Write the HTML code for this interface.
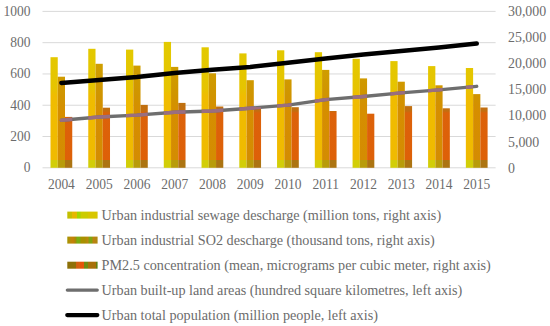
<!DOCTYPE html><html><head><meta charset="utf-8"><style>html,body{margin:0;padding:0;background:#fff;width:550px;height:326px;overflow:hidden}svg{display:block}text{font-family:"Liberation Serif",serif;fill:#6C6C6C}</style></head><body><svg width="550" height="326" viewBox="0 0 550 326"><defs><linearGradient id="gY" gradientUnits="userSpaceOnUse" x1="0" y1="0" x2="0" y2="326"><stop offset="0.1227" stop-color="#E2CA00"/><stop offset="0.2699" stop-color="#E6C400"/><stop offset="0.2945" stop-color="#F0BC00"/><stop offset="0.4893" stop-color="#F0BA00"/><stop offset="0.4923" stop-color="#D2CE08"/><stop offset="0.5153" stop-color="#D2CE08"/></linearGradient><linearGradient id="gS" gradientUnits="userSpaceOnUse" x1="0" y1="0" x2="0" y2="326"><stop offset="0.1840" stop-color="#CFA000"/><stop offset="0.2945" stop-color="#D09400"/><stop offset="0.3436" stop-color="#D68E00"/><stop offset="0.4893" stop-color="#D48C02"/><stop offset="0.4923" stop-color="#B89C0A"/><stop offset="0.5153" stop-color="#B89C0A"/></linearGradient><linearGradient id="gP" gradientUnits="userSpaceOnUse" x1="0" y1="0" x2="0" y2="326"><stop offset="0.3067" stop-color="#BC7210"/><stop offset="0.3405" stop-color="#C46E10"/><stop offset="0.3466" stop-color="#DC620A"/><stop offset="0.4893" stop-color="#DE6008"/><stop offset="0.4923" stop-color="#AC7412"/><stop offset="0.5153" stop-color="#AC7412"/></linearGradient><linearGradient id="lY" gradientUnits="userSpaceOnUse" x1="0" y1="0" x2="550" y2="0"><stop offset="0.1218" stop-color="#C0C000"/><stop offset="0.1300" stop-color="#C8BE00"/><stop offset="0.1318" stop-color="#E6B800"/><stop offset="0.1391" stop-color="#E6B800"/><stop offset="0.1409" stop-color="#A0D800"/><stop offset="0.1455" stop-color="#A8D400"/><stop offset="0.1473" stop-color="#CCCC00"/><stop offset="0.1591" stop-color="#CCCC00"/><stop offset="0.1609" stop-color="#D8C600"/><stop offset="0.1764" stop-color="#D8C600"/></linearGradient><linearGradient id="lS" gradientUnits="userSpaceOnUse" x1="0" y1="0" x2="550" y2="0"><stop offset="0.1218" stop-color="#A09600"/><stop offset="0.1273" stop-color="#B88C08"/><stop offset="0.1327" stop-color="#C88008"/><stop offset="0.1382" stop-color="#A08C08"/><stop offset="0.1400" stop-color="#78B010"/><stop offset="0.1455" stop-color="#80A810"/><stop offset="0.1473" stop-color="#A89000"/><stop offset="0.1545" stop-color="#A89000"/><stop offset="0.1600" stop-color="#C08410"/><stop offset="0.1618" stop-color="#80A410"/><stop offset="0.1673" stop-color="#80A410"/><stop offset="0.1691" stop-color="#C08010"/><stop offset="0.1764" stop-color="#B08810"/></linearGradient><linearGradient id="lP" gradientUnits="userSpaceOnUse" x1="0" y1="0" x2="550" y2="0"><stop offset="0.1218" stop-color="#8C7008"/><stop offset="0.1373" stop-color="#907008"/><stop offset="0.1391" stop-color="#D06010"/><stop offset="0.1445" stop-color="#D86010"/><stop offset="0.1464" stop-color="#E45408"/><stop offset="0.1518" stop-color="#E45408"/><stop offset="0.1536" stop-color="#708A10"/><stop offset="0.1591" stop-color="#708A10"/><stop offset="0.1609" stop-color="#A87008"/><stop offset="0.1736" stop-color="#A87008"/><stop offset="0.1755" stop-color="#608010"/><stop offset="0.1782" stop-color="#608010"/></linearGradient><clipPath id="barclip"><rect x="50.50" y="57.20" width="7.25" height="110.60"/><rect x="57.75" y="76.70" width="7.25" height="91.10"/><rect x="65.00" y="116.90" width="7.25" height="50.90"/><rect x="88.26" y="48.80" width="7.25" height="119.00"/><rect x="95.51" y="63.80" width="7.25" height="104.00"/><rect x="102.76" y="107.70" width="7.25" height="60.10"/><rect x="126.02" y="49.60" width="7.25" height="118.20"/><rect x="133.27" y="65.60" width="7.25" height="102.20"/><rect x="140.52" y="104.90" width="7.25" height="62.90"/><rect x="163.78" y="41.90" width="7.25" height="125.90"/><rect x="171.03" y="66.90" width="7.25" height="100.90"/><rect x="178.28" y="102.90" width="7.25" height="64.90"/><rect x="201.54" y="47.30" width="7.25" height="120.50"/><rect x="208.79" y="73.30" width="7.25" height="94.50"/><rect x="216.04" y="106.50" width="7.25" height="61.30"/><rect x="239.30" y="53.40" width="7.25" height="114.40"/><rect x="246.55" y="80.20" width="7.25" height="87.60"/><rect x="253.80" y="107.00" width="7.25" height="60.80"/><rect x="277.05" y="50.30" width="7.25" height="117.50"/><rect x="284.30" y="79.40" width="7.25" height="88.40"/><rect x="291.55" y="107.20" width="7.25" height="60.60"/><rect x="314.81" y="52.20" width="7.25" height="115.60"/><rect x="322.06" y="69.90" width="7.25" height="97.90"/><rect x="329.31" y="111.00" width="7.25" height="56.80"/><rect x="352.57" y="58.80" width="7.25" height="109.00"/><rect x="359.82" y="78.40" width="7.25" height="89.40"/><rect x="367.07" y="113.70" width="7.25" height="54.10"/><rect x="390.33" y="61.10" width="7.25" height="106.70"/><rect x="397.58" y="81.70" width="7.25" height="86.10"/><rect x="404.83" y="106.10" width="7.25" height="61.70"/><rect x="428.09" y="66.10" width="7.25" height="101.70"/><rect x="435.34" y="85.30" width="7.25" height="82.50"/><rect x="442.59" y="108.30" width="7.25" height="59.50"/><rect x="465.85" y="68.00" width="7.25" height="99.80"/><rect x="473.10" y="94.10" width="7.25" height="73.70"/><rect x="480.35" y="107.50" width="7.25" height="60.30"/></clipPath></defs><rect width="550" height="326" fill="#fff"/><line x1="42.5" x2="495.6" y1="167.80" y2="167.80" stroke="#D9D9D9" stroke-width="1"/><line x1="42.5" x2="495.6" y1="136.52" y2="136.52" stroke="#D9D9D9" stroke-width="1"/><line x1="42.5" x2="495.6" y1="105.24" y2="105.24" stroke="#D9D9D9" stroke-width="1"/><line x1="42.5" x2="495.6" y1="73.96" y2="73.96" stroke="#D9D9D9" stroke-width="1"/><line x1="42.5" x2="495.6" y1="42.68" y2="42.68" stroke="#D9D9D9" stroke-width="1"/><line x1="42.5" x2="495.6" y1="11.40" y2="11.40" stroke="#D9D9D9" stroke-width="1"/><text transform="translate(30.5 172.10) scale(1 1.150)" font-size="13.50" text-anchor="end">0</text><text transform="translate(30.5 140.82) scale(1 1.150)" font-size="13.50" text-anchor="end">200</text><text transform="translate(30.5 109.54) scale(1 1.150)" font-size="13.50" text-anchor="end">400</text><text transform="translate(30.5 78.26) scale(1 1.150)" font-size="13.50" text-anchor="end">600</text><text transform="translate(30.5 46.98) scale(1 1.150)" font-size="13.50" text-anchor="end">800</text><text transform="translate(30.5 15.70) scale(1 1.150)" font-size="13.50" text-anchor="end">1000</text><text transform="translate(508 172.60) scale(1.030 1.150)" font-size="13.50">0</text><text transform="translate(508 146.53) scale(1.030 1.150)" font-size="13.50">5,000</text><text transform="translate(508 120.47) scale(1.030 1.150)" font-size="13.50">10,000</text><text transform="translate(508 94.40) scale(1.030 1.150)" font-size="13.50">15,000</text><text transform="translate(508 68.33) scale(1.030 1.150)" font-size="13.50">20,000</text><text transform="translate(508 42.27) scale(1.030 1.150)" font-size="13.50">25,000</text><text transform="translate(508 16.20) scale(1.030 1.150)" font-size="13.50">30,000</text><rect x="50.50" y="57.20" width="7.25" height="110.60" fill="url(#gY)"/><rect x="57.75" y="76.70" width="7.25" height="91.10" fill="url(#gS)"/><rect x="65.00" y="116.90" width="7.25" height="50.90" fill="url(#gP)"/><rect x="88.26" y="48.80" width="7.25" height="119.00" fill="url(#gY)"/><rect x="95.51" y="63.80" width="7.25" height="104.00" fill="url(#gS)"/><rect x="102.76" y="107.70" width="7.25" height="60.10" fill="url(#gP)"/><rect x="126.02" y="49.60" width="7.25" height="118.20" fill="url(#gY)"/><rect x="133.27" y="65.60" width="7.25" height="102.20" fill="url(#gS)"/><rect x="140.52" y="104.90" width="7.25" height="62.90" fill="url(#gP)"/><rect x="163.78" y="41.90" width="7.25" height="125.90" fill="url(#gY)"/><rect x="171.03" y="66.90" width="7.25" height="100.90" fill="url(#gS)"/><rect x="178.28" y="102.90" width="7.25" height="64.90" fill="url(#gP)"/><rect x="201.54" y="47.30" width="7.25" height="120.50" fill="url(#gY)"/><rect x="208.79" y="73.30" width="7.25" height="94.50" fill="url(#gS)"/><rect x="216.04" y="106.50" width="7.25" height="61.30" fill="url(#gP)"/><rect x="239.30" y="53.40" width="7.25" height="114.40" fill="url(#gY)"/><rect x="246.55" y="80.20" width="7.25" height="87.60" fill="url(#gS)"/><rect x="253.80" y="107.00" width="7.25" height="60.80" fill="url(#gP)"/><rect x="277.05" y="50.30" width="7.25" height="117.50" fill="url(#gY)"/><rect x="284.30" y="79.40" width="7.25" height="88.40" fill="url(#gS)"/><rect x="291.55" y="107.20" width="7.25" height="60.60" fill="url(#gP)"/><rect x="314.81" y="52.20" width="7.25" height="115.60" fill="url(#gY)"/><rect x="322.06" y="69.90" width="7.25" height="97.90" fill="url(#gS)"/><rect x="329.31" y="111.00" width="7.25" height="56.80" fill="url(#gP)"/><rect x="352.57" y="58.80" width="7.25" height="109.00" fill="url(#gY)"/><rect x="359.82" y="78.40" width="7.25" height="89.40" fill="url(#gS)"/><rect x="367.07" y="113.70" width="7.25" height="54.10" fill="url(#gP)"/><rect x="390.33" y="61.10" width="7.25" height="106.70" fill="url(#gY)"/><rect x="397.58" y="81.70" width="7.25" height="86.10" fill="url(#gS)"/><rect x="404.83" y="106.10" width="7.25" height="61.70" fill="url(#gP)"/><rect x="428.09" y="66.10" width="7.25" height="101.70" fill="url(#gY)"/><rect x="435.34" y="85.30" width="7.25" height="82.50" fill="url(#gS)"/><rect x="442.59" y="108.30" width="7.25" height="59.50" fill="url(#gP)"/><rect x="465.85" y="68.00" width="7.25" height="99.80" fill="url(#gY)"/><rect x="473.10" y="94.10" width="7.25" height="73.70" fill="url(#gS)"/><rect x="480.35" y="107.50" width="7.25" height="60.30" fill="url(#gP)"/><text transform="translate(61.38 188.80) scale(1 1.150)" font-size="13.50" text-anchor="middle">2004</text><text transform="translate(99.14 188.80) scale(1 1.150)" font-size="13.50" text-anchor="middle">2005</text><text transform="translate(136.90 188.80) scale(1 1.150)" font-size="13.50" text-anchor="middle">2006</text><text transform="translate(174.65 188.80) scale(1 1.150)" font-size="13.50" text-anchor="middle">2007</text><text transform="translate(212.41 188.80) scale(1 1.150)" font-size="13.50" text-anchor="middle">2008</text><text transform="translate(250.17 188.80) scale(1 1.150)" font-size="13.50" text-anchor="middle">2009</text><text transform="translate(287.93 188.80) scale(1 1.150)" font-size="13.50" text-anchor="middle">2010</text><text transform="translate(325.69 188.80) scale(1 1.150)" font-size="13.50" text-anchor="middle">2011</text><text transform="translate(363.45 188.80) scale(1 1.150)" font-size="13.50" text-anchor="middle">2012</text><text transform="translate(401.20 188.80) scale(1 1.150)" font-size="13.50" text-anchor="middle">2013</text><text transform="translate(438.96 188.80) scale(1 1.150)" font-size="13.50" text-anchor="middle">2014</text><text transform="translate(476.72 188.80) scale(1 1.150)" font-size="13.50" text-anchor="middle">2015</text><polyline points="61.38,120.25 99.14,116.97 136.90,115.09 174.65,112.28 212.41,111.03 250.17,108.21 287.93,105.08 325.69,99.61 363.45,96.48 401.20,92.88 438.96,89.91 476.72,86.32" fill="none" stroke="#6E6E6E" stroke-width="3.4" stroke-linecap="round" stroke-linejoin="round"/><polyline points="61.38,120.25 99.14,116.97 136.90,115.09 174.65,112.28 212.41,111.03 250.17,108.21 287.93,105.08 325.69,99.61 363.45,96.48 401.20,92.88 438.96,89.91 476.72,86.32" fill="none" stroke="#9A6E80" stroke-width="3.4" stroke-linecap="round" stroke-linejoin="round" clip-path="url(#barclip)"/><polyline points="61.38,82.90 99.14,80.10 136.90,77.00 174.65,72.90 212.41,69.80 250.17,67.00 287.93,62.80 325.69,58.60 363.45,54.60 401.20,50.90 438.96,47.60 476.72,43.60" fill="none" stroke="#000" stroke-width="4.5" stroke-linecap="round" stroke-linejoin="round"/><rect x="67.3" y="211.60" width="30.3" height="7" fill="url(#lY)"/><text transform="translate(101.6 220.00) scale(1 1.060)" font-size="14.20">Urban industrial sewage descharge (million tons, right axis)</text><rect x="67.3" y="236.60" width="30.3" height="7" fill="url(#lS)"/><text transform="translate(101.6 245.00) scale(1 1.060)" font-size="14.20">Urban industrial SO2 descharge (thousand tons, right axis)</text><rect x="67.3" y="261.70" width="30.3" height="7" fill="url(#lP)"/><text transform="translate(101.6 270.10) scale(1 1.060)" font-size="14.20">PM2.5 concentration (mean, micrograms per cubic meter, right axis)</text><line x1="67.3" x2="97.3" y1="290.05" y2="290.05" stroke="#6E6E6E" stroke-width="3.2" stroke-linecap="round"/><text transform="translate(101.6 294.95) scale(1 1.060)" font-size="14.20">Urban built-up land areas (hundred square kilometres, left axis)</text><line x1="67.3" x2="97.3" y1="315.05" y2="315.05" stroke="#000" stroke-width="4.3" stroke-linecap="round"/><text transform="translate(101.6 319.95) scale(1 1.060)" font-size="14.20">Urban total population (million people, left axis)</text></svg></body></html>
